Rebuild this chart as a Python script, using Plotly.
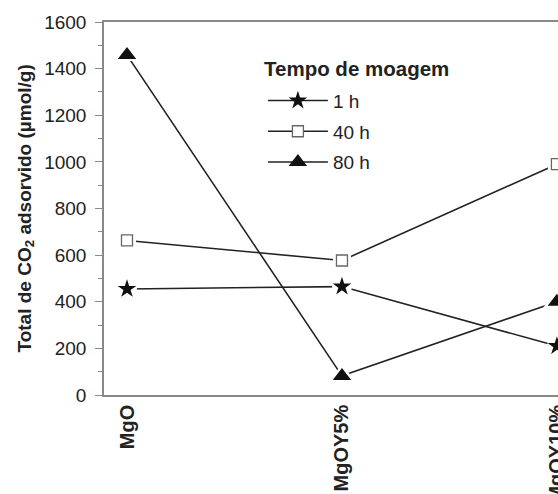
import plotly.graph_objects as go

categories = ["MgO", "MgOY5%", "MgOY10%"]
x_idx = [0, 1, 2]
h1 = [455, 465, 210]
h40 = [663, 577, 990]
h80 = [1458, 82, 400]
series_names = ["1 h", "40 h", "80 h"]
y_ticks = [0, 200, 400, 600, 800, 1000, 1200, 1400, 1600]
y_title = "<b>Total de CO<sub>2</sub> adsorvido (\u00b5mol/g)</b>"
legend_title = "<b>Tempo de moagem</b>"

FONT = "Liberation Sans, Arial, sans-serif"
fig = go.Figure()
markers = [
    dict(symbol="star", size=14, color="#111", line=dict(width=0)),
    dict(symbol="square", size=11, color="white", line=dict(width=1.3, color="#666")),
    dict(symbol="triangle-up", size=16, color="#111", line=dict(width=0)),
]
halos = [
    dict(symbol="circle", size=20, color="white", line=dict(width=0)),
    dict(symbol="square", size=18, color="white", line=dict(width=0)),
    dict(symbol="triangle-up", size=24, color="white", line=dict(width=0)),
]
data = [h1, h40, h80]

for name, vals, m in zip(series_names, data, markers):
    fig.add_trace(go.Scatter(
        x=x_idx, y=vals, name=name, mode="lines+markers",
        line=dict(color="#222", width=1.6), legendgroup=name,
        marker=m, cliponaxis=False,
    ))
for vals, h in zip(data, halos):
    fig.add_trace(go.Scatter(x=x_idx, y=vals, mode="markers", marker=h,
                             showlegend=False, hoverinfo="skip", cliponaxis=False))
for vals, m in zip(data, markers):
    fig.add_trace(go.Scatter(x=x_idx, y=vals, mode="markers", marker=m,
                             showlegend=False, hoverinfo="skip", cliponaxis=False))

fig.add_annotation(
    text=y_title, textangle=-90, xref="paper", yref="paper",
    x=-0.174, y=0.5, xanchor="center", yanchor="middle", showarrow=False,
    font=dict(size=19, family=FONT, color="#222"),
)
fig.add_annotation(
    text=legend_title, xref="paper", yref="paper",
    x=0.349, y=0.876, xanchor="left", yanchor="middle", showarrow=False,
    font=dict(size=20.5, family=FONT, color="#222"),
)

fig.update_layout(
    width=558, height=494,
    margin=dict(l=104, r=0, t=22, b=99),
    paper_bgcolor="white", plot_bgcolor="white",
    font=dict(family=FONT, color="#222", size=19),
    showlegend=True,
    legend=dict(
        x=0.35, y=0.84, xanchor="left", yanchor="top",
        font=dict(size=19, family=FONT),
        bgcolor="rgba(0,0,0,0)", tracegroupgap=3,
        itemwidth=60,
    ),
    xaxis=dict(
        range=[-0.107, 2.005], tickmode="array", tickvals=x_idx,
        ticktext=["<b>%s</b>" % c for c in categories],
        tickangle=-90, ticks="", showgrid=False, zeroline=False,
        showline=True, linecolor="#888", linewidth=1.5, mirror=True,
        tickfont=dict(size=20), ticklabeloverflow="allow", automargin=False,
    ),
    yaxis=dict(
        range=[0, 1600], tickvals=y_ticks, ticks="outside", ticklen=7,
        tickcolor="#888", tickwidth=1.3, ticklabelstandoff=5, automargin=False,
        minor=dict(ticks="outside", ticklen=4, dtick=100, tickcolor="#888", tickwidth=1.2),
        showgrid=False, zeroline=False, showline=True, linecolor="#888", linewidth=1.5,
        tickfont=dict(size=19),
    ),
)
fig.write_html(
    "out.html",
    config={"displayModeBar": False},
    post_script="document.body.style.margin='0';document.body.style.overflow='hidden';",
)
